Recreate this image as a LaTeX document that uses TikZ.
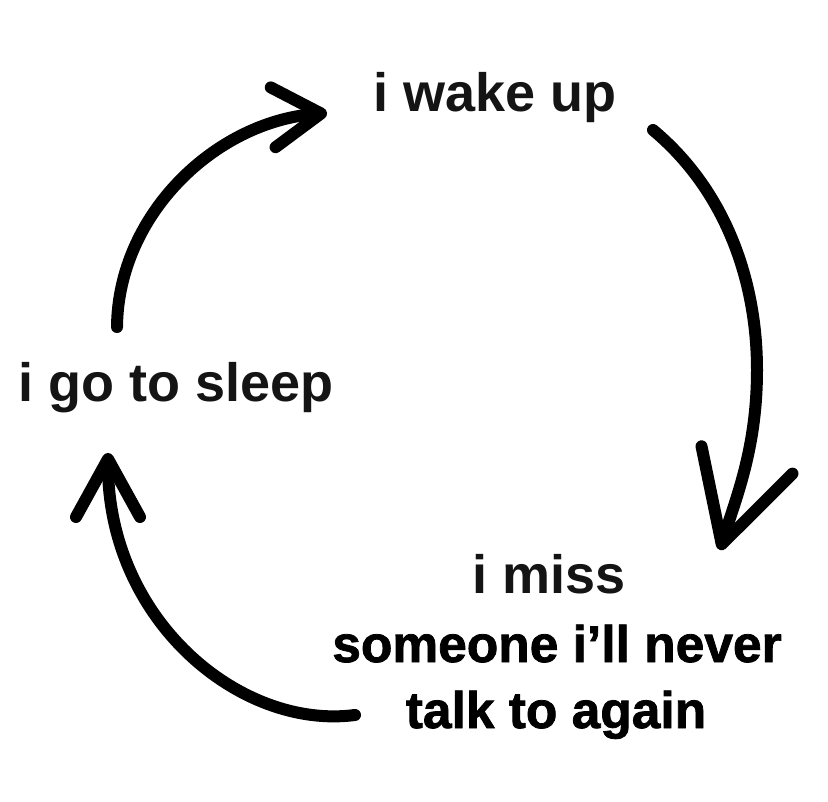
\documentclass[tikz,border=0pt]{standalone}
\usepackage{fontspec}
\setmainfont{Liberation Sans}
\newfontfamily\heavyfont[BoldFeatures={FakeBold=1.5}]{Liberation Sans}
\usepackage{tikz}
\usetikzlibrary{positioning,arrows.meta}
\definecolor{inkgray}{HTML}{141414}

\begin{document}
\begin{tikzpicture}[
  x=1pt, y=-1pt,
  lbl/.style={inner sep=0pt, text=inkgray, font=\fontsize{54}{60}\selectfont\bfseries},
  lblheavy/.style={inner sep=0pt, text=black, font=\heavyfont\fontsize{51.5}{60}\selectfont\bfseries},
  arr/.style={line width=12pt, line cap=round, line join=round}
]
\path[use as bounding box, fill=white] (0,0) rectangle (828,802);

\node[lbl, anchor=base west] (wake) at (373,112) {i wake up};
\node[lbl, anchor=base west] (sleep) at (18,402) {i go to sleep};
\node[lbl, anchor=base] (miss) at (549,593) {i miss};
\node[lblheavy, anchor=base] (someone) at (557,662) {someone i’ll never};
\node[lblheavy, anchor=base] (talk) at (556,728) {talk to again};

\coordinate (sleep-out) at (117,327);
\coordinate (wake-in) at (327,113);
\coordinate (wake-out) at (653,130);
\coordinate (bend) at (757,370);
\coordinate (miss-in) at (720,550);
\coordinate (miss-out) at (355,715);
\coordinate (sleep-in) at (108,453);

\draw[arr, -{Straight Barb[length=48pt, width=60pt, round]}]
  (sleep-out) .. controls (118,215) and (215,122) .. (wake-in);
\draw[arr, -{Straight Barb[length=88pt, width=95pt, round]}]
  (wake-out) .. controls (725,190) and (757,280) .. (bend)
  .. controls (757,450) and (735,500) .. (miss-in);
\draw[arr, -{Straight Barb[length=58pt, width=64pt, round]}]
  (miss-out) .. controls (240,730) and (108,620) .. (sleep-in);
\end{tikzpicture}
\end{document}
